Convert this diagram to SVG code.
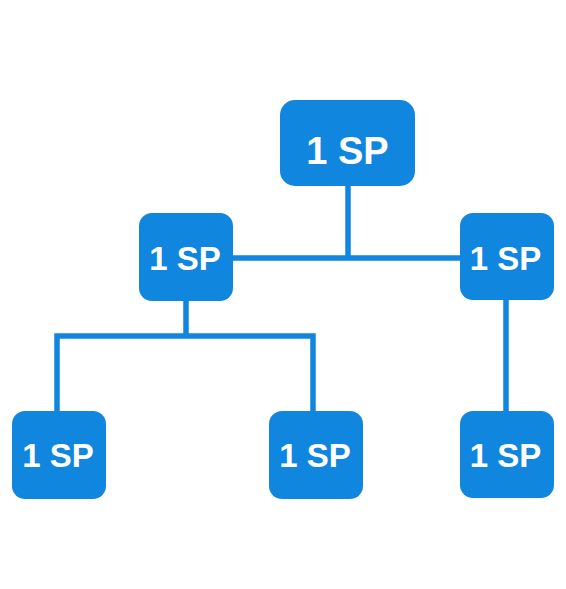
<svg xmlns="http://www.w3.org/2000/svg" width="566" height="589" viewBox="0 0 566 589">
<style>
.box{fill:#1186df}
.lbl{fill:#fff;font-family:"Liberation Sans",Arial,sans-serif;font-weight:bold;text-anchor:middle}
.s{font-size:33px}
.l{font-size:38px}
.c{fill:none;stroke:#1186df;stroke-width:5.5}
</style>
<rect width="566" height="589" fill="#fff"/>
<g id="connectors">
<path class="c" d="M348 186V258M233 258H460"/>
<path class="c" d="M186 301V336M57 411V336H313V411"/>
<path class="c" d="M506 300V411"/>
</g>
<g id="n-top"><rect class="box" x="280" y="100" width="135" height="86" rx="15"/><text class="lbl l" x="347.5" y="164">1 SP</text></g>
<g id="n-midleft"><rect class="box" x="139" y="213" width="94" height="88" rx="13"/><text class="lbl s" x="185" y="269.5">1 SP</text></g>
<g id="n-midright"><rect class="box" x="460" y="213" width="94" height="87" rx="13"/><text class="lbl s" x="505.5" y="269.5">1 SP</text></g>
<g id="n-botleft"><rect class="box" x="12" y="411" width="94" height="88" rx="13"/><text class="lbl s" x="58" y="467">1 SP</text></g>
<g id="n-botmid"><rect class="box" x="269" y="411" width="94" height="88" rx="13"/><text class="lbl s" x="315" y="467">1 SP</text></g>
<g id="n-botright"><rect class="box" x="460" y="411" width="94" height="87" rx="13"/><text class="lbl s" x="505.5" y="467">1 SP</text></g>
</svg>
